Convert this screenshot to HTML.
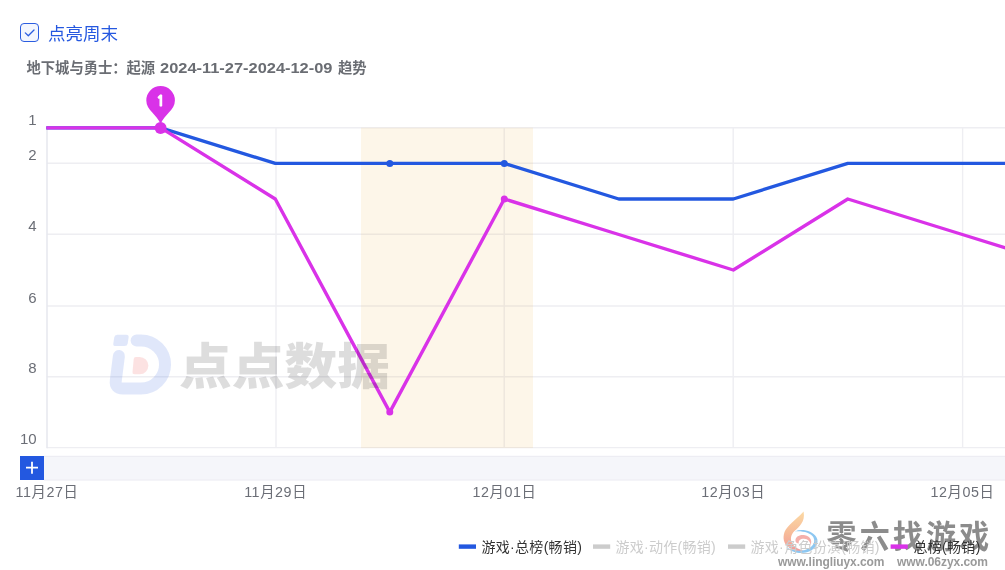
<!DOCTYPE html>
<html lang="zh-CN">
<head>
<meta charset="utf-8">
<title>点亮周末</title>
<style>
html,body{margin:0;padding:0;background:#fff;}
body{width:1005px;height:570px;position:relative;overflow:hidden;font-family:"Liberation Sans","Noto Sans CJK SC",sans-serif;}
#cb{position:absolute;left:20px;top:23px;width:17px;height:17px;border:1px solid #2b5de0;border-radius:4px;background:#f3f6fe;}
#cbl{position:absolute;left:48px;top:21px;font-size:17.5px;line-height:26px;color:#2558e0;white-space:nowrap;}
#title{position:absolute;left:26.5px;top:56px;font-size:14.3px;line-height:24px;font-weight:bold;color:#6a6d73;white-space:nowrap;}
svg{position:absolute;left:0;top:0;}
#title .d{display:inline-block;transform:scaleX(1.148);transform-origin:0 50%;margin:0 23.7px 0 0.9px;}
.ax{font-size:14.3px;fill:#6b6e76;}
.xl{letter-spacing:0.6px;}
.lg{font-size:14px;fill:#333;letter-spacing:0.3px;}
.lgd{font-size:14px;fill:#ccc;letter-spacing:0.3px;}
</style>
</head>
<body>
<div id="cb"></div>
<div id="cbl">点亮周末</div>
<div id="title">地下城与勇士：起源 <span class="d">2024-11-27-2024-12-09</span> 趋势</div>
<svg width="1005" height="570" viewBox="0 0 1005 570">
  <!-- checkbox tick -->
  <path d="M25.3 32.9 L28.3 35.8 L34 30" fill="none" stroke="#2b5de0" stroke-width="1.3" stroke-linecap="round" stroke-linejoin="round"/>
  <!-- grid -->
  <g stroke="#eeeef2" stroke-width="1.4" fill="none">
    <path d="M46.8 127.8H1005M46.8 163.2H1005M46.8 234.2H1005M46.8 306H1005M46.8 376.8H1005M46.8 447.6H1005"/>
    <path d="M276 127.8V447.6M504.2 127.8V447.6M733.2 127.8V447.6M962.6 127.8V447.6"/>
  </g>
  <path d="M47 127.2V448.2" stroke="#e6e7ee" stroke-width="1.5" fill="none"/>
  <!-- weekend band -->
  <rect x="361" y="127.6" width="172" height="320.5" fill="rgb(240,170,50)" fill-opacity="0.105"/>
  <!-- lines -->
  <polyline points="46.3,127.9 160.8,127.9 275.3,163.4 389.8,163.4 504.3,163.4 618.8,199.0 733.3,199.0 847.8,163.4 962.3,163.4 1076.8,163.4" fill="none" stroke="#2358e0" stroke-width="3.4" stroke-linejoin="round"/>
  <circle cx="389.8" cy="163.4" r="3.5" fill="#2358e0"/>
  <circle cx="504.3" cy="163.4" r="3.5" fill="#2358e0"/>
  <polyline points="46.3,127.9 160.8,127.9 275.3,199.0 389.8,412.1 504.3,199.0 618.8,234.5 733.3,270.0 847.8,199.0 962.3,234.5 1076.8,270.0" fill="none" stroke="#d932e8" stroke-width="3.4" stroke-linejoin="round"/>
  <circle cx="389.8" cy="412.0" r="3.5" fill="#d932e8"/>
  <circle cx="504.3" cy="199.0" r="3.5" fill="#d932e8"/>
  <!-- pin -->
  <circle cx="160.6" cy="127.9" r="6" fill="#d932e8"/>
  <path d="M160.6 124 C157 114.500 146.3 110 146.3 100.4 A14.3 14.3 0 0 1 174.9 100.4 C174.9 110 164.2 114.500 160.6 124 Z" fill="#d932e8"/>
  <text x="160.5" y="106.2" text-anchor="middle" font-size="13.4" font-weight="bold" fill="#fff" stroke="#fff" stroke-width="1.2" stroke-linejoin="miter" font-family="'NanumGothic','Liberation Sans',sans-serif">1</text>
  <!-- watermark center -->
  <g opacity="0.14">
    <path d="M136.6 340.4 H141 A24 24 0 0 1 141 388.5 H123 Q114.8 388.5 115.8 380.5 L118.9 356" fill="none" stroke="#2b5de0" stroke-width="12" stroke-linecap="round" stroke-linejoin="round"/>
    <path d="M117.2 334.8 h9.2 q2.6 0 2.2 2.6 l-0.9 6 q-0.4 2.6 -3 2.6 h-9.2 q-2.6 0 -2.2 -2.6 l0.9 -6 q0.4 -2.600 3 -2.6 z" fill="#2b5de0"/>
    <path d="M135.6 357 h4.2 a8.6 8.6 0 0 1 0 17.2 h-5.4 q-2.2 0 -1.900 -2.2 l1.2 -13 q0.200 -2 1.900 -2 z" fill="#f03c3c"/>
    <text transform="translate(179,383.8) scale(1.025,0.94)" x="0" y="0" font-size="51.5" font-weight="900" fill="#000" fill-opacity="0.92" font-family="'Noto Sans CJK SC',sans-serif">点点数据</text>
  </g>
  <!-- y labels -->
  <g class="ax" text-anchor="end" style="font-size:15px">
    <text x="36.6" y="124.6">1</text>
    <text x="36.6" y="159.9">2</text>
    <text x="36.6" y="230.9">4</text>
    <text x="36.6" y="302.6">6</text>
    <text x="36.6" y="373.3">8</text>
    <text x="36.6" y="443.6">10</text>
  </g>
  <!-- strip -->
  <rect x="44" y="456" width="961" height="24.3" fill="#f5f6fa"/>
  <path d="M44 456.3H1005M44 480H1005" stroke="#ececf2" stroke-width="1" fill="none"/>
  <rect x="20" y="456" width="24" height="24" fill="#2358e0"/>
  <path d="M26 467.7H38M32 461.7V473.7" stroke="#fff" stroke-width="1.8" fill="none"/>
  <!-- x labels -->
  <g class="ax xl" text-anchor="middle">
    <text x="47" y="496.8">11月27日</text>
    <text x="275.6" y="496.8">11月29日</text>
    <text x="504.4" y="496.8">12月01日</text>
    <text x="733.2" y="496.8">12月03日</text>
    <text x="962.4" y="496.8">12月05日</text>
  </g>
  <!-- corner watermark -->
  <defs>
    <linearGradient id="fl" x1="0" y1="0" x2="0" y2="1">
      <stop offset="0" stop-color="#fbd59a"/>
      <stop offset="0.55" stop-color="#f6b48e"/>
      <stop offset="1" stop-color="#f08f8f"/>
    </linearGradient>
  </defs>
  <g>
    <path d="M803.6 511.4 C800 516 789 524 785.5 530 C782.5 535.5 783 542 787 546 C791 550 798 552 804 550.5 C800 550 794 547.5 792 543 C790 538.5 791 534.5 794.5 531 C799 526.5 805.5 522 803.6 511.4 Z" fill="url(#fl)" opacity="0.9"/>
    <path d="M795.5 541 C795 536.5 800 534.3 805 535.3 C809.8 536.300 812.800 540 810.5 545.5 C810.5 541.500 808 539 804 538.8 C800.5 538.700 798.200 540.500 798.8 543.5 C797 543.500 795.700 542.500 795.5 541 Z" fill="#f3a29c" opacity="0.85"/>
    <path d="M794.7 531.4 C802 528.5 812 530.5 816.3 537 C820 543 815 550.5 806 552.5 C799 554 791 552 786.5 547.5 C792 550.5 799 551.5 805 550 C812 548 816 543 813.5 537.5 C811 532.5 802 530.6 794.7 531.4 Z" fill="#79bdee" opacity="0.85"/>
    <text transform="translate(826.5,548.2) scale(1,1.06)" x="0" y="0" font-size="30" font-weight="700" letter-spacing="3.2" fill="#8c8c8c" font-family="'Noto Sans CJK SC',sans-serif">零六找游戏</text>
    <text x="778" y="566.2" font-size="12" font-weight="bold" fill="#9a9a9a" font-family="'Liberation Sans',sans-serif" textLength="106.5" lengthAdjust="spacing">www.lingliuyx.com</text>
    <text x="897" y="566.2" font-size="12" font-weight="bold" fill="#9a9a9a" font-family="'Liberation Sans',sans-serif" textLength="91" lengthAdjust="spacing">www.06zyx.com</text>
  </g>
  <!-- legend -->
  <rect x="458.8" y="544.4" width="17.2" height="4.4" fill="#2358e0"/>
  <text class="lg" x="481.5" y="551.5">游戏·总榜(畅销)</text>
  <rect x="593" y="544.4" width="17.2" height="4.4" fill="#ccc"/>
  <text class="lgd" x="615.4" y="551.5">游戏·动作(畅销)</text>
  <rect x="728" y="544.4" width="17.2" height="4.4" fill="#ccc"/>
  <text class="lgd" x="750.5" y="551.5">游戏·角色扮演(畅销)</text>
  <rect x="890.6" y="544.4" width="17.2" height="4.4" fill="#d932e8"/>
  <text class="lg" x="913.5" y="551.5">总榜(畅销)</text>
</svg>
</body>
</html>
